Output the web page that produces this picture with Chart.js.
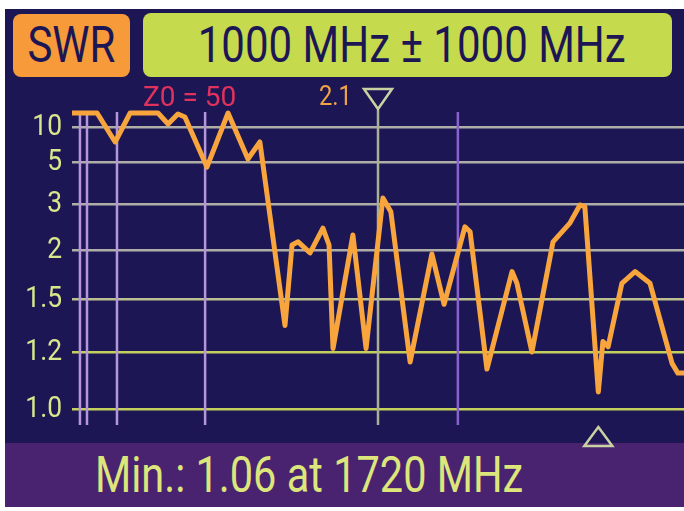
<!DOCTYPE html>
<html><head><meta charset="utf-8">
<script src="https://cdn.jsdelivr.net/npm/chart.js@4.4.1/dist/chart.umd.min.js"></script>
<style>
html,body{margin:0;padding:0;background:#fff;width:684px;height:511px;overflow:hidden;font-family:Roboto,'Noto Sans',sans-serif;}
#screen{position:absolute;left:5px;top:9px;width:679px;height:498px;background:#1c1754;}
.box{position:absolute;border-radius:8px;color:#1c1754;font-size:50px;text-align:center;white-space:nowrap;}
.box span{display:inline-block;transform:scaleX(0.84);}
#mode{left:13px;top:14px;width:117px;height:63px;line-height:63px;background:#f79a3a;}
#span{left:143px;top:13px;width:529px;height:64px;line-height:64px;background:#c6da4e;}
#span span{position:relative;left:4px;}
#foot{position:absolute;left:5px;top:443px;width:679px;height:64px;background:#4a2370;color:#dde67a;font-size:50px;line-height:64px;white-space:nowrap;}
#foot span{position:absolute;left:90px;top:0;display:inline-block;transform:scaleX(0.83);transform-origin:0 50%;}
#z0{position:absolute;left:143px;top:83px;color:#e0325c;font-size:28px;line-height:28px;}
#wrap{position:absolute;left:0;top:70px;width:684px;height:385px;}
</style></head>
<body>
<div id="screen"></div>
<div id="foot"><span>Min.: 1.06 at 1720 MHz</span></div>
<div id="mode" class="box"><span>SWR</span></div>
<div id="span" class="box"><span>1000 MHz ± 1000 MHz</span></div>
<div id="wrap"><canvas id="c" width="684" height="385"></canvas></div>
<div id="z0">Z0 = 50</div>
<script>
// ---- data ----
const freqMHz = [0, 82, 141, 190, 281, 314, 346, 369, 441, 510, 575, 614, 696, 719, 739, 778, 820, 840, 853, 918, 961, 1016, 1042, 1105, 1176, 1216, 1284, 1301, 1356, 1438, 1454, 1503, 1572, 1627, 1660, 1676, 1720, 1735, 1752, 1797, 1840, 1889, 1961, 1980, 2000];
const swrValues = [12.0, 12.0, 7.86, 12.0, 12.0, 10.43, 11.86, 11.43, 4.76, 12.0, 5.43, 7.86, 1.35, 2.11, 2.18, 1.97, 2.48, 2.11, 1.22, 2.33, 1.22, 3.31, 2.84, 1.165, 1.96, 1.47, 2.51, 2.40, 1.14, 1.78, 1.66, 1.20, 2.18, 2.59, 2.99, 2.95, 1.06, 1.26, 1.23, 1.66, 1.78, 1.66, 1.16, 1.126, 1.126];
const swrTicks = [1.0, 1.2, 1.5, 2, 3, 5, 10];
const swrTickLabels = ['1.0', '1.2', '1.5', '2', '3', '5', '10'];
const bandMarkersMHz = [26, 49, 147, 435, 1261];
const cursorMHz = 1000;
const cursorLabel = '2.1';
const minMarkerMHz = 1720;

// ---- instrument's non-linear SWR scale (relative spacing of its ticks) ----
const AXIS_SPACING = [0, 57, 110, 159, 204.5, 247, 282];
const AXIS_LOW = -16, AXIS_HIGH = 309;
function swrToUnit(v) {
  const t = swrTicks, s = AXIS_SPACING, n = t.length;
  if (v <= t[0]) return s[0] + (v - t[0]) * (s[1] - s[0]) / (t[1] - t[0]);
  for (let i = 1; i < n; i++) if (v <= t[i]) return s[i-1] + (v - t[i-1]) * (s[i] - s[i-1]) / (t[i] - t[i-1]);
  return s[n-1] + (v - t[n-1]) * (s[n-1] - s[n-2]) / (t[n-1] - t[n-2]);
}
function unitToSwr(u) {
  const t = swrTicks, s = AXIS_SPACING, n = t.length;
  if (u <= s[0]) return t[0] + (u - s[0]) * (t[1] - t[0]) / (s[1] - s[0]);
  for (let i = 1; i < n; i++) if (u <= s[i]) return t[i-1] + (u - s[i-1]) * (t[i] - t[i-1]) / (s[i] - s[i-1]);
  return t[n-1] + (u - s[n-1]) * (t[n-1] - t[n-2]) / (s[n-1] - s[n-2]);
}
class SwrScale extends Chart.LinearScale {
  buildTicks() { return swrTicks.map(v => ({ value: v })); }
  getPixelForValue(v) { return this.getPixelForDecimal((swrToUnit(v) - AXIS_LOW) / (AXIS_HIGH - AXIS_LOW)); }
  getValueForPixel(p) { return unitToSwr(AXIS_LOW + this.getDecimalForPixel(p) * (AXIS_HIGH - AXIS_LOW)); }
  drawLabels(area) {
    const ctx = this.ctx;
    const xr = this.right - this.options.ticks.padding;
    ctx.save();
    ctx.translate(xr, 0); ctx.scale(0.88, 1); ctx.translate(-xr, 0);
    super.drawLabels(area);
    ctx.restore();
  }
}
SwrScale.id = 'swr';
SwrScale.defaults = Chart.LinearScale.defaults;
Chart.register(SwrScale);

function gridColor(v) {
  if (v >= 2) return '#aeada6';
  if (v >= 1.5) return '#bcbf8e';
  return '#c4d05c';
}

const markersPlugin = {
  id: 'markers',
  beforeDatasetsDraw(chart) {
    const { ctx, chartArea, scales } = chart;
    const xs = scales.x;
    ctx.save();
    ctx.lineWidth = 2.5;
    bandMarkersMHz.forEach((f, i) => {
      const x = xs.getPixelForValue(f);
      ctx.strokeStyle = i === bandMarkersMHz.length - 1 ? '#8a62cf' : '#b596dc';
      ctx.beginPath(); ctx.moveTo(x, chartArea.top + 12); ctx.lineTo(x, chartArea.bottom); ctx.stroke();
    });
    const cx = xs.getPixelForValue(cursorMHz);
    ctx.strokeStyle = '#a9b096';
    ctx.beginPath(); ctx.moveTo(cx, chartArea.top + 10); ctx.lineTo(cx, chartArea.bottom); ctx.stroke();
    ctx.restore();
  },
  afterDatasetsDraw(chart) {
    const { ctx, chartArea, scales } = chart;
    const xs = scales.x;
    ctx.save();
    ctx.strokeStyle = '#c9d2a2';
    ctx.lineWidth = 2.5;
    const cx = xs.getPixelForValue(cursorMHz);
    const tTop = chartArea.top - 11;
    ctx.beginPath(); ctx.moveTo(cx - 14, tTop); ctx.lineTo(cx + 14, tTop); ctx.lineTo(cx, tTop + 20); ctx.closePath(); ctx.stroke();
    ctx.save();
    const lx = cx - 26;
    ctx.translate(lx, 0); ctx.scale(0.85, 1); ctx.translate(-lx, 0);
    ctx.fillStyle = '#f2a344';
    ctx.font = '28px Roboto';
    ctx.textAlign = 'right';
    ctx.textBaseline = 'middle';
    ctx.fillText(cursorLabel, lx, tTop + 9);
    ctx.restore();
    const mx = xs.getPixelForValue(minMarkerMHz);
    const bTop = chartArea.bottom + 2;
    ctx.beginPath(); ctx.moveTo(mx, bTop); ctx.lineTo(mx + 14, bTop + 19); ctx.lineTo(mx - 14, bTop + 19); ctx.closePath(); ctx.stroke();
    ctx.restore();
  }
};

new Chart(document.getElementById('c'), {
  type: 'line',
  data: {
    datasets: [{
      data: freqMHz.map((f, i) => ({ x: f, y: swrValues[i] })),
      borderColor: '#f7a53c',
      borderWidth: 5,
      pointRadius: 0,
      tension: 0,
      borderJoinStyle: 'round',
      borderCapStyle: 'round'
    }]
  },
  options: {
    responsive: false,
    animation: false,
    devicePixelRatio: 1,
    layout: { padding: { top: 30, bottom: 30, left: 0, right: 0 } },
    plugins: { legend: { display: false }, tooltip: { enabled: false } },
    scales: {
      x: { type: 'linear', min: 0, max: 2000, display: false },
      y: {
        type: 'swr', position: 'left', min: 1, max: 12,
        afterFit(s) { s.width = 72; },
        grid: { color: c => gridColor(c.tick ? c.tick.value : 1), lineWidth: 2.5, drawTicks: false },
        border: { display: false },
        ticks: {
          autoSkip: false, color: '#d7e88c', padding: 10,
          font: { family: 'Roboto', size: 30 },
          callback: v => swrTickLabels[swrTicks.indexOf(v)]
        }
      }
    }
  },
  plugins: [markersPlugin]
});
</script>
</body></html>
